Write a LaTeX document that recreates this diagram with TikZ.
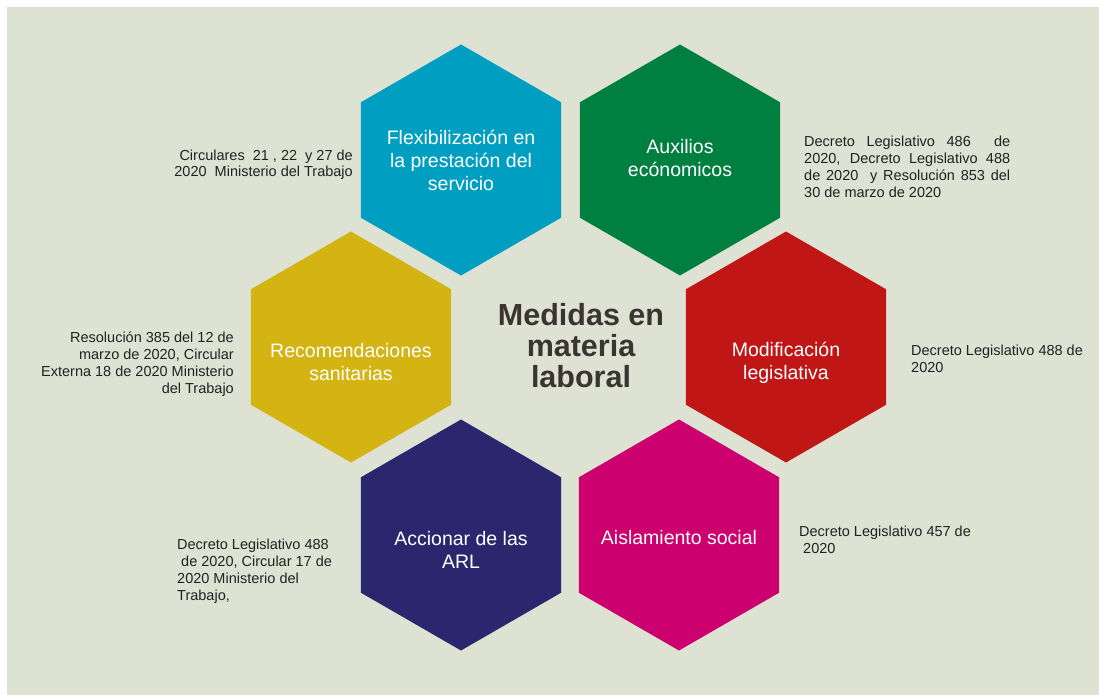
\documentclass[tikz,border=0pt]{standalone}
\usepackage{fontspec}
\setmainfont{Liberation Sans}
\usetikzlibrary{shapes.geometric}
\setlength{\parindent}{0pt}

\definecolor{fondo}{RGB}{221,226,211}
\definecolor{azul}{RGB}{0,159,194}
\definecolor{verde}{RGB}{0,128,64}
\definecolor{amarillo}{RGB}{212,180,18}
\definecolor{rojo}{RGB}{193,22,22}
\definecolor{morado}{RGB}{43,39,110}
\definecolor{fucsia}{RGB}{204,0,110}
\definecolor{titulo}{RGB}{58,53,48}
\definecolor{notacol}{RGB}{34,34,34}

\tikzset{
  hexa/.style={regular polygon, regular polygon sides=6, shape border rotate=30,
    minimum size=231pt, inner sep=0pt, outer sep=0pt},
  hextxt/.style={text=white, align=center, anchor=base, inner sep=0pt,
    font=\fontsize{19.5}{23}\selectfont},
  nota/.style={text=notacol, inner sep=0pt, font=\fontsize{14.5}{16.7}\selectfont},
}

\begin{document}
\begin{tikzpicture}[x=1pt,y=-1pt]
  % fondo
  \fill[white] (0,0) rectangle (1099,695);
  \fill[fondo] (7,7) rectangle (1099,695);
  \useasboundingbox (0,0) rectangle (1099,695);

  % hexagonos
  \node[hexa,fill=azul] (flex) at (461,160) {};
  \node[hexa,fill=verde] (aux) at (680,160) {};
  \node[hexa,fill=amarillo] (reco) at (351,347) {};
  \node[hexa,fill=rojo] (modi) at (786,347) {};
  \node[hexa,fill=morado] (arl) at (461,535) {};
  \node[hexa,fill=fucsia] (aisl) at (679,535) {};

  % textos de los hexagonos (base = ultima linea)
  \node[hextxt] (flex-t) at (461,190) {Flexibilización en\\la prestación del\\servicio};
  \node[hextxt] (aux-t) at (680,177) {Auxilios\\ecónomicos};
  \node[hextxt] (reco-t) at (351,380) {Recomendaciones\\sanitarias};
  \node[hextxt] (modi-t) at (786,379) {Modificación\\legislativa};
  \node[hextxt] (arl-t) at (461,568) {Accionar de las\\ARL};
  \node[hextxt] (aisl-t) at (679,544) {Aislamiento social};

  % titulo central
  \node[text=titulo, align=center, anchor=base, inner sep=0pt,
    font=\fontsize{30.5}{31}\selectfont\bfseries] (medidas) at (581,387)
    {Medidas en\\materia\\laboral};

  % normas
  \node[nota, anchor=base east, align=right] (n-flex) at (353,177)
    {Circulares\ \ 21 , 22\ \ y 27 de\\2020\ \ Ministerio del Trabajo};
  \node[nota, anchor=base west, text width=206pt, align=justify] (n-aux) at (804,147)
    {Decreto Legislativo 486\ \ de\linebreak 2020, Decreto Legislativo 488\linebreak
     de 2020\ \ y Resolución 853 del\linebreak 30 de marzo de 2020};
  \node[nota, anchor=base east, align=right] (n-reco) at (234,393)
    {Resolución 385 del 12 de\\marzo de 2020, Circular\\Externa 18 de 2020 Ministerio\\del Trabajo};
  \node[nota, anchor=base west, align=left] (n-modi) at (911,372)
    {Decreto Legislativo 488 de\\2020};
  \node[nota, anchor=base west, align=left] (n-arl) at (177,600)
    {Decreto Legislativo 488\\\ de 2020, Circular 17 de\\2020 Ministerio del\\Trabajo,};
  \node[nota, anchor=base west, align=left] (n-aisl) at (799,553)
    {Decreto Legislativo 457 de\\\ 2020};
\end{tikzpicture}
\end{document}
